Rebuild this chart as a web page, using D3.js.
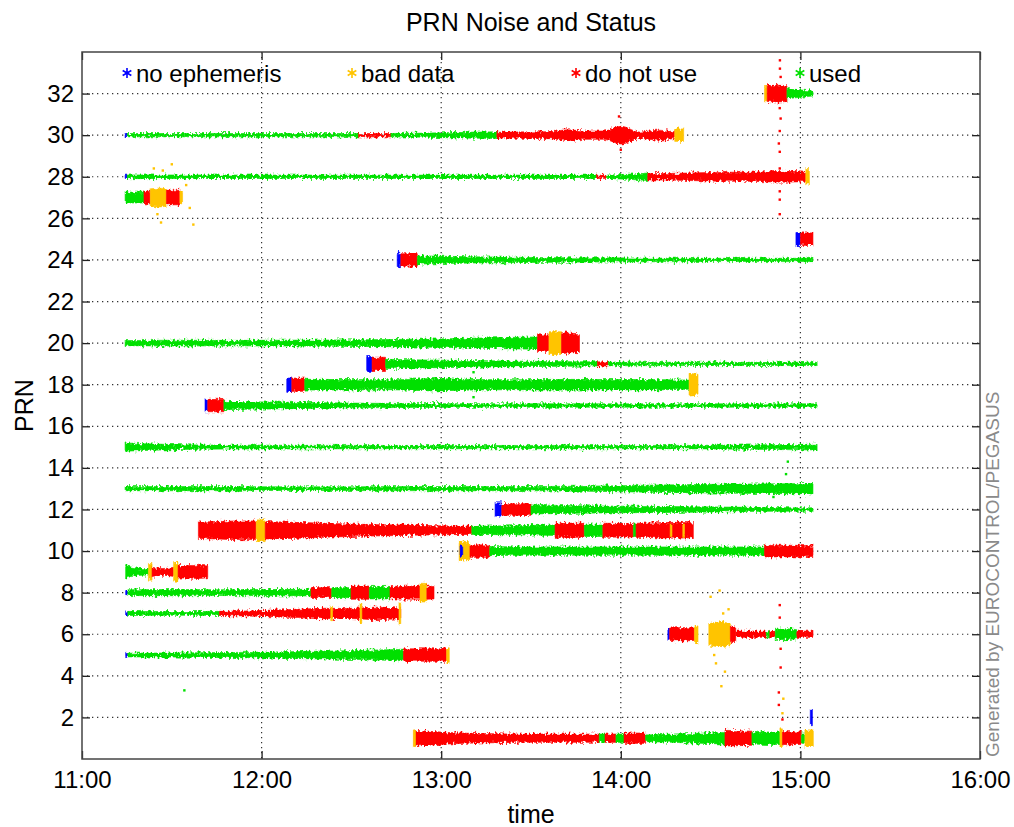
<!DOCTYPE html>
<html>
<head>
<meta charset="utf-8">
<script src="https://cdn.jsdelivr.net/npm/d3@7"></script>
<style>
  body { margin: 0; background: #fff; }
  text { font-family: "Liberation Sans", Arial, Helvetica, sans-serif; }
</style>
</head>
<body>
<div id="chart"></div>
<script>
// status categories and legend labels
var statusKeys = ["noeph", "bad", "dnu", "used"];
var statusLabels = ["no ephemeris", "bad data", "do not use", "used"];

// tick values (time in hours, PRN numbers)
var xTicks = [11, 12, 13, 14, 15, 16];
var yTicks = [2, 4, 6, 8, 10, 12, 14, 16, 18, 20, 22, 24, 26, 28, 30, 32];

// noise bands: [prn, start hour, end hour, status, noise half-spread samples (PRN units)]
var segments = [
  [32, 14.80, 14.815, "bad", [0.35, 0.35]],
  [32, 14.815, 14.925, "dnu", [0.38, 0.4, 0.38]],
  [32, 14.925, 15.07, "used", [0.25, 0.18, 0.12]],

  [30, 11.24, 11.252, "noeph", [0.08, 0.08]],
  [30, 11.252, 12.54, "used", [0.08, 0.08]],
  [30, 12.54, 12.72, "dnu", [0.08, 0.08]],
  [30, 12.72, 13.31, "used", [0.08, 0.1, 0.14, 0.16]],
  [30, 13.31, 14.30, "dnu", [0.14, 0.15, 0.16, 0.17, 0.26, 0.2, 0.2, 0.43, 0.15, 0.24, 0.16]],
  [30, 14.30, 14.35, "bad", [0.3, 0.3]],

  [28, 11.24, 11.252, "noeph", [0.08, 0.08]],
  [28, 11.252, 13.865, "used", [0.09, 0.08, 0.08, 0.08]],
  [28, 13.865, 13.92, "dnu", [0.08, 0.08]],
  [28, 13.92, 14.15, "used", [0.08, 0.12, 0.18]],
  [28, 14.15, 15.03, "dnu", [0.15, 0.16, 0.18, 0.2, 0.22, 0.22, 0.24, 0.26, 0.22]],
  [28, 15.03, 15.05, "bad", [0.35, 0.35]],

  [27, 11.24, 11.345, "used", [0.26, 0.26]],
  [27, 11.345, 11.38, "dnu", [0.3, 0.3]],
  [27, 11.38, 11.47, "bad", [0.42, 0.45, 0.42]],
  [27, 11.47, 11.545, "dnu", [0.35, 0.35]],
  [27, 11.545, 11.56, "bad", [0.3, 0.3]],

  [25, 14.975, 15.0, "noeph", [0.32, 0.32]],
  [25, 15.0, 15.07, "dnu", [0.3, 0.3]],

  [24, 12.755, 12.775, "noeph", [0.32, 0.32]],
  [24, 12.775, 12.867, "dnu", [0.3, 0.3]],
  [24, 12.867, 15.07, "used", [0.2, 0.15, 0.12, 0.1, 0.09, 0.08, 0.08, 0.08]],

  [20, 11.24, 13.536, "used", [0.12, 0.14, 0.13, 0.14, 0.15, 0.17, 0.2, 0.25, 0.3]],
  [20, 13.536, 13.60, "dnu", [0.4, 0.4]],
  [20, 13.60, 13.67, "bad", [0.55, 0.55]],
  [20, 13.67, 13.77, "dnu", [0.5, 0.45]],

  [19, 12.585, 12.615, "noeph", [0.36, 0.36]],
  [19, 12.615, 12.69, "dnu", [0.32, 0.32]],
  [19, 12.69, 13.87, "used", [0.22, 0.18, 0.15, 0.12, 0.1]],
  [19, 13.87, 13.93, "dnu", [0.1, 0.1]],
  [19, 13.93, 15.093, "used", [0.09, 0.08, 0.08, 0.08]],

  [18, 12.14, 12.168, "noeph", [0.32, 0.32]],
  [18, 12.168, 12.24, "dnu", [0.32, 0.32]],
  [18, 12.24, 14.38, "used", [0.26, 0.25, 0.24, 0.3, 0.25, 0.24, 0.26, 0.25, 0.25, 0.22]],
  [18, 14.38, 14.43, "bad", [0.55, 0.5]],

  [17, 11.685, 11.70, "noeph", [0.3, 0.3]],
  [17, 11.70, 11.79, "dnu", [0.3, 0.3]],
  [17, 11.79, 15.093, "used", [0.2, 0.14, 0.1, 0.09, 0.08, 0.08, 0.08, 0.08]],

  [15, 11.24, 15.093, "used", [0.2, 0.1, 0.09, 0.08, 0.08, 0.08, 0.08, 0.08, 0.1, 0.14]],

  [13, 11.24, 15.07, "used", [0.1, 0.1, 0.09, 0.09, 0.1, 0.1, 0.12, 0.18, 0.22, 0.25]],

  [12, 13.30, 13.337, "noeph", [0.32, 0.32]],
  [12, 13.337, 13.50, "dnu", [0.28, 0.28]],
  [12, 13.50, 15.07, "used", [0.22, 0.18, 0.16, 0.14, 0.12, 0.09, 0.08]],

  [11, 11.648, 11.97, "dnu", [0.4, 0.42, 0.45, 0.45]],
  [11, 11.97, 12.02, "bad", [0.5, 0.5]],
  [11, 12.02, 13.17, "dnu", [0.42, 0.38, 0.32, 0.28, 0.25, 0.22, 0.2]],
  [11, 13.17, 13.634, "used", [0.2, 0.22, 0.25]],
  [11, 13.634, 13.797, "dnu", [0.34, 0.34]],
  [11, 13.797, 13.90, "used", [0.3, 0.3]],
  [11, 13.90, 14.07, "dnu", [0.34, 0.32]],
  [11, 14.07, 14.085, "used", [0.3, 0.3]],
  [11, 14.085, 14.404, "dnu", [0.34, 0.36, 0.38, 0.36]],
  [11, 14.275, 14.285, "bad", [0.3, 0.3]],
  [11, 14.345, 14.355, "bad", [0.3, 0.3]],

  [10, 13.10, 13.16, "bad", [0.45, 0.4]],
  [10, 13.105, 13.12, "noeph", [0.25, 0.25]],
  [10, 13.16, 13.27, "dnu", [0.3, 0.3]],
  [10, 13.27, 14.80, "used", [0.22, 0.2, 0.2, 0.2, 0.2, 0.2, 0.2]],
  [10, 14.80, 15.07, "dnu", [0.28, 0.28, 0.26]],

  [9, 11.243, 11.37, "used", [0.3, 0.18, 0.15]],
  [9, 11.37, 11.39, "bad", [0.4, 0.4]],
  [9, 11.39, 11.51, "dnu", [0.22, 0.16, 0.22]],
  [9, 11.51, 11.535, "bad", [0.45, 0.45]],
  [9, 11.535, 11.70, "dnu", [0.3, 0.3, 0.32, 0.28]],

  [8, 11.243, 11.255, "noeph", [0.1, 0.1]],
  [8, 11.255, 12.275, "used", [0.14, 0.15, 0.14, 0.15, 0.16]],
  [8, 12.275, 12.39, "dnu", [0.24, 0.24]],
  [8, 12.39, 12.498, "used", [0.24, 0.24]],
  [8, 12.498, 12.60, "dnu", [0.32, 0.32]],
  [8, 12.60, 12.715, "used", [0.3, 0.3]],
  [8, 12.715, 12.882, "dnu", [0.3, 0.32]],
  [8, 12.882, 12.92, "bad", [0.45, 0.45]],
  [8, 12.92, 12.96, "dnu", [0.32, 0.3]],

  [7, 11.243, 11.255, "noeph", [0.08, 0.08]],
  [7, 11.255, 11.765, "used", [0.1, 0.09, 0.1]],
  [7, 11.765, 12.775, "dnu", [0.1, 0.12, 0.16, 0.2, 0.25, 0.24, 0.3, 0.26]],
  [7, 12.385, 12.395, "bad", [0.35, 0.35]],
  [7, 12.548, 12.558, "bad", [0.45, 0.45]],
  [7, 12.765, 12.775, "bad", [0.5, 0.5]],

  [6, 14.262, 14.272, "noeph", [0.25, 0.25]],
  [6, 14.272, 14.41, "dnu", [0.3, 0.32, 0.3]],
  [6, 14.41, 14.43, "bad", [0.4, 0.4]],
  [6, 14.49, 14.61, "bad", [0.5, 0.6, 0.5]],
  [6, 14.61, 14.64, "dnu", [0.35, 0.35]],
  [6, 14.64, 14.81, "dnu", [0.15, 0.15, 0.15]],
  [6, 14.81, 14.83, "used", [0.12, 0.12]],
  [6, 14.83, 14.86, "dnu", [0.15, 0.15]],
  [6, 14.86, 14.98, "used", [0.24, 0.26, 0.22]],
  [6, 14.98, 15.07, "dnu", [0.15, 0.15]],

  [5, 11.243, 11.255, "noeph", [0.08, 0.08]],
  [5, 11.255, 12.79, "used", [0.09, 0.1, 0.12, 0.14, 0.18, 0.22, 0.28]],
  [5, 12.79, 13.03, "dnu", [0.3, 0.3, 0.3]],
  [5, 13.03, 13.045, "bad", [0.35, 0.35]],

  [2, 15.055, 15.067, "noeph", [0.35, 0.35]],

  [1, 12.849, 13.88, "dnu", [0.38, 0.3, 0.24, 0.22, 0.2, 0.2, 0.2, 0.2]],
  [1, 12.845, 12.857, "bad", [0.4, 0.4]],
  [1, 13.88, 13.912, "used", [0.2, 0.2]],
  [1, 13.912, 13.973, "dnu", [0.2, 0.2]],
  [1, 13.973, 14.018, "used", [0.2, 0.2]],
  [1, 14.018, 14.138, "dnu", [0.25, 0.25]],
  [1, 14.138, 14.58, "used", [0.16, 0.2, 0.24, 0.28]],
  [1, 14.58, 14.73, "dnu", [0.38, 0.36, 0.34]],
  [1, 14.73, 14.886, "used", [0.28, 0.3, 0.3]],
  [1, 14.886, 14.90, "bad", [0.45, 0.45]],
  [1, 14.90, 15.005, "dnu", [0.32, 0.3]],
  [1, 15.005, 15.025, "used", [0.25, 0.25]],
  [1, 15.025, 15.072, "bad", [0.4, 0.4]]
];

// scattered noise outliers: [hour, prn value, status]
var outliers = [
  [14.886, 33.6, "dnu"], [14.886, 33.2, "dnu"], [14.89, 32.8, "dnu"], [14.885, 31.3, "dnu"],
  [14.89, 30.8, "dnu"], [14.885, 30.2, "dnu"], [14.88, 29.6, "dnu"], [14.885, 29.2, "dnu"],
  [14.885, 28.4, "dnu"], [14.88, 27.8, "dnu"], [14.885, 27.3, "dnu"], [14.885, 26.9, "dnu"],
  [14.885, 26.2, "dnu"], [14.88, 2.6, "dnu"], [14.88, 3.2, "dnu"], [14.89, 4.4, "dnu"],
  [14.89, 5.3, "dnu"], [14.885, 6.8, "dnu"], [14.885, 7.4, "dnu"], [14.9, 1.9, "dnu"],
  [14.9, 2.2, "bad"], [14.905, 2.9, "bad"],
  [11.40, 28.4, "bad"], [11.45, 28.3, "bad"], [11.42, 26.2, "bad"], [11.44, 25.8, "bad"],
  [11.60, 26.5, "bad"], [11.62, 25.7, "bad"], [11.50, 28.6, "bad"], [11.58, 27.6, "bad"],
  [14.50, 7.8, "bad"], [14.55, 8.1, "bad"], [14.53, 4.6, "bad"], [14.58, 4.2, "bad"],
  [14.56, 3.5, "bad"], [14.60, 7.2, "bad"], [14.52, 5.0, "bad"], [14.57, 7.0, "bad"],
  [14.92, 13.7, "used"], [14.93, 14.3, "used"], [14.85, 12.6, "used"], [11.57, 3.3, "used"],
  [13.18, 17.4, "used"], [13.18, 18.6, "used"], [13.99, 30.9, "dnu"], [14.0, 29.3, "dnu"]
];

// set the dimensions and margins of the graph
var margin = {top: 52, right: 34, bottom: 68, left: 82},
    width = 1014 - margin.left - margin.right,
    height = 827 - margin.top - margin.bottom;

// status colours
var statusColor = d3.scaleOrdinal().domain(statusKeys)
  .range(["#0000ff", "#ffc400", "#ff0000", "#00e000"]);

var svg = d3.select("#chart")
  .append("svg")
    .attr("width", 1014)
    .attr("height", 827);

// ragged edge filter: vertical-only displacement from turbulence
var filt = svg.append("defs").append("filter")
    .attr("id", "ragged")
    .attr("filterUnits", "userSpaceOnUse")
    .attr("x", 0).attr("y", 0).attr("width", 1014).attr("height", 827);
filt.append("feTurbulence")
    .attr("type", "fractalNoise").attr("baseFrequency", "0.45 0.3")
    .attr("numOctaves", 2).attr("seed", 4).attr("result", "noise");
filt.append("feColorMatrix")
    .attr("in", "noise").attr("type", "matrix")
    .attr("values", "0 0 0 0 0.5  0 1 0 0 0  0 0 0 0 0  0 0 0 0 1")
    .attr("result", "map");
filt.append("feDisplacementMap")
    .attr("in", "SourceGraphic").attr("in2", "map").attr("scale", 7)
    .attr("xChannelSelector", "R").attr("yChannelSelector", "G");

var g = svg.append("g")
    .attr("transform", "translate(" + margin.left + "," + margin.top + ")");

var x = d3.scaleLinear().domain([11, 16]).range([0, width]);
var y = d3.scaleLinear().domain([0, 34]).range([height, 0]);

// dotted grid
g.append("g").selectAll("line").data(xTicks.slice(1, -1)).enter().append("line")
    .attr("x1", function(d) { return x(d); }).attr("x2", function(d) { return x(d); })
    .attr("y1", 0).attr("y2", height)
    .attr("stroke", "#333").attr("stroke-width", 1.2).attr("stroke-dasharray", "1.3,3.7");
g.append("g").selectAll("line").data(yTicks).enter().append("line")
    .attr("y1", function(d) { return y(d); }).attr("y2", function(d) { return y(d); })
    .attr("x1", 0).attr("x2", width)
    .attr("stroke", "#333").attr("stroke-width", 1.2).attr("stroke-dasharray", "1.3,3.7");

// outliers (drawn crisp, behind the bands)
g.append("g").selectAll("rect").data(outliers).enter().append("rect")
    .attr("x", function(d) { return x(d[0]) - 1.2; })
    .attr("y", function(d) { return y(d[1]) - 1.2; })
    .attr("width", 2.4).attr("height", 2.4)
    .attr("fill", function(d) { return statusColor(d[2]); });

// noise bands
var area = d3.area()
    .x(function(d) { return x(d.t); })
    .y0(function(d) { return y(d.prn - d.a); })
    .y1(function(d) { return y(d.prn + d.a); })
    .curve(d3.curveMonotoneX);

var bands = svg.append("g").attr("filter", "url(#ragged)")
  .append("g")
    .attr("transform", "translate(" + margin.left + "," + margin.top + ")");

bands.selectAll("path").data(segments).enter().append("path")
    .attr("d", function(s) {
      var n = s[4].length;
      return area(s[4].map(function(a, i) {
        return {t: s[1] + (s[2] - s[1]) * i / (n - 1), prn: s[0], a: a};
      }));
    })
    .attr("fill", function(s) { return statusColor(s[3]); })
    .attr("stroke", function(s) { return statusColor(s[3]); })
    .attr("stroke-width", 0.6);

var front = svg.append("g")
    .attr("transform", "translate(" + margin.left + "," + margin.top + ")");

// axes with inward ticks
var axisStyle = function(sel) {
  sel.select(".domain").remove();
  sel.selectAll(".tick line").attr("stroke", "#222").attr("stroke-width", 1.3);
  sel.selectAll("text").attr("fill", "#000").style("font-size", "24px")
    .style("font-family", "'Liberation Sans', Arial, sans-serif");
};
front.append("g")
  .attr("transform", "translate(0," + height + ")")
  .call(d3.axisBottom(x).tickValues(xTicks).tickSize(-8).tickPadding(12)
    .tickFormat(function(d) { return d + ":00"; }))
  .call(axisStyle);
front.append("g")
  .call(d3.axisTop(x).tickValues(xTicks).tickSize(-8).tickFormat(""))
  .call(axisStyle);
front.append("g")
  .call(d3.axisLeft(y).tickValues(yTicks).tickSize(-8).tickPadding(8))
  .call(axisStyle);
front.append("g")
  .attr("transform", "translate(" + width + ",0)")
  .call(d3.axisRight(y).tickValues(yTicks).tickSize(-8).tickFormat(""))
  .call(axisStyle);

// plot box
front.append("rect")
    .attr("width", width).attr("height", height)
    .attr("fill", "none").attr("stroke", "#444").attr("stroke-width", 1.5);

// legend
var legendX = [45, 270, 494, 718];
var legend = front.append("g").selectAll("g").data(statusKeys).enter().append("g")
    .attr("transform", function(d, i) { return "translate(" + legendX[i] + ",21)"; });
legend.append("path")
    .attr("d", d3.symbol(d3.symbolAsterisk, 70))
    .attr("stroke", function(d) { return statusColor(d); })
    .attr("stroke-width", 1.6).attr("fill", "none");
legend.append("text")
    .attr("x", 9).attr("y", 9)
    .style("font-size", "24px")
    .text(function(d, i) { return statusLabels[i]; });

// titles
svg.append("text")
    .attr("x", margin.left + width / 2).attr("y", 31)
    .attr("text-anchor", "middle").style("font-size", "25px")
    .text("PRN Noise and Status");
svg.append("text")
    .attr("x", margin.left + width / 2).attr("y", 823)
    .attr("text-anchor", "middle").style("font-size", "25px")
    .text("time");
svg.append("text")
    .attr("transform", "translate(33," + (margin.top + height / 2) + ") rotate(-90)")
    .attr("text-anchor", "middle").style("font-size", "25px")
    .text("PRN");
svg.append("text")
    .attr("transform", "translate(999,757) rotate(-90)")
    .attr("text-anchor", "start").style("font-size", "19px")
    .attr("fill", "#8a8a8a")
    .text("Generated by EUROCONTROL/PEGASUS");
</script>
</body>
</html>
